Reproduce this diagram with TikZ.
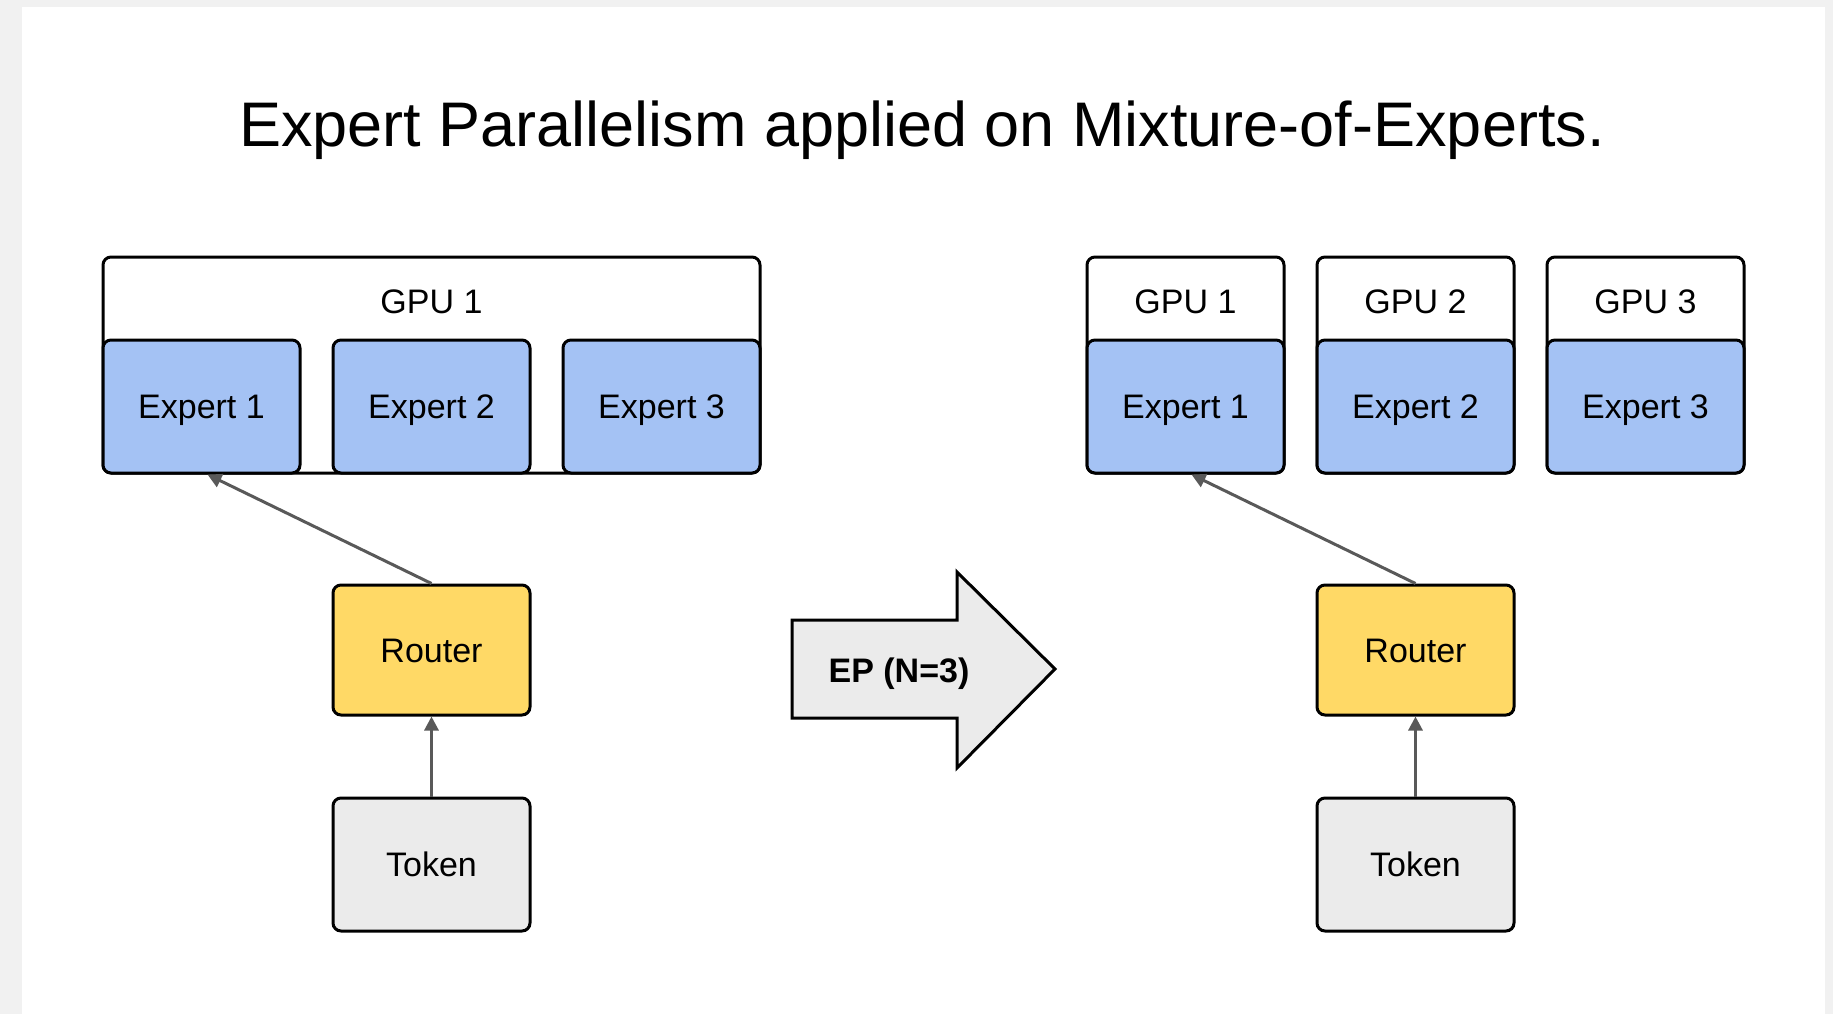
\documentclass[tikz,border=0pt]{standalone}
\usepackage{fontspec}
\setmainfont{Liberation Sans}
\usetikzlibrary{arrows.meta,calc}
\definecolor{bggray}{HTML}{F1F1F1}
\definecolor{expblue}{HTML}{A4C2F4}
\definecolor{routyel}{HTML}{FFD966}
\definecolor{tokgray}{HTML}{EBEBEB}
\definecolor{linegray}{HTML}{595959}
\tikzset{
  box/.style={draw=black, line width=1.5pt, rounded corners=4pt, minimum width=98.5pt, inner sep=0pt,
    font=\fontsize{17}{20}\selectfont, text height=12.2pt, text depth=0pt},
  gpubox/.style={box, fill=white, minimum height=108pt},
  expbox/.style={box, fill=expblue, minimum height=66.5pt},
  routbox/.style={box, fill=routyel, minimum height=65pt},
  tokbox/.style={box, fill=tokgray, minimum height=66.5pt},
  lbl/.style={font=\fontsize{17}{20}\selectfont, inner sep=0pt, text height=12.2pt, text depth=0pt},
  conn/.style={draw=linegray, line width=1.5pt, -{Triangle[length=7pt,width=7pt]}},
}
\begin{document}
\begin{tikzpicture}[x=0.5pt,y=-0.5pt]
\useasboundingbox (0,0) rectangle (1833,1014);
\fill[bggray] (0,0) rectangle (1833,1014);
\fill[white] (22,7) rectangle (1825,1014);
% title
\node[anchor=base, inner sep=0pt, font=\fontsize{31.5}{36}\selectfont] (title) at (922,146) {Expert Parallelism applied on Mixture-of-Experts.};
% left side
\node[gpubox, minimum width=328.5pt] (gpuL) at (431.5,365) {};
\node[lbl] (gpuLt) at (431.5,301) {GPU 1};
\node[expbox] (eL1) at (201.5,406.5) {Expert 1};
\node[expbox] (eL2) at (431.5,406.5) {Expert 2};
\node[expbox] (eL3) at (661.5,406.5) {Expert 3};
\node[routbox] (rL) at (431.5,650) {Router};
\node[tokbox] (tL) at (431.5,864.5) {Token};
\draw[conn] (tL.north) -- (rL.south);
\draw[conn] (rL.north) -- ($(eL1.south)+(6,0)$);
% right side
\node[gpubox] (g1) at (1185.5,365) {};
\node[gpubox] (g2) at (1415.5,365) {};
\node[gpubox] (g3) at (1645.5,365) {};
\node[lbl] (g1t) at (1185.5,301) {GPU 1};
\node[lbl] (g2t) at (1415.5,301) {GPU 2};
\node[lbl] (g3t) at (1645.5,301) {GPU 3};
\node[expbox] (eR1) at (1185.5,406.5) {Expert 1};
\node[expbox] (eR2) at (1415.5,406.5) {Expert 2};
\node[expbox] (eR3) at (1645.5,406.5) {Expert 3};
\node[routbox] (rR) at (1415.5,650) {Router};
\node[tokbox] (tR) at (1415.5,864.5) {Token};
\draw[conn] (tR.north) -- (rR.south);
\draw[conn] (rR.north) -- ($(eR1.south)+(6,0)$);
% big arrow
\draw[fill=tokgray, line width=1.5pt, line join=miter] (792,620) -- (957,620) -- (957,572) -- (1055,669) -- (957,768) -- (957,718) -- (792,718) -- cycle;
\node[lbl, font=\fontsize{17}{20}\selectfont\bfseries] (ep) at (899,670) {EP (N=3)};
\end{tikzpicture}
\end{document}
